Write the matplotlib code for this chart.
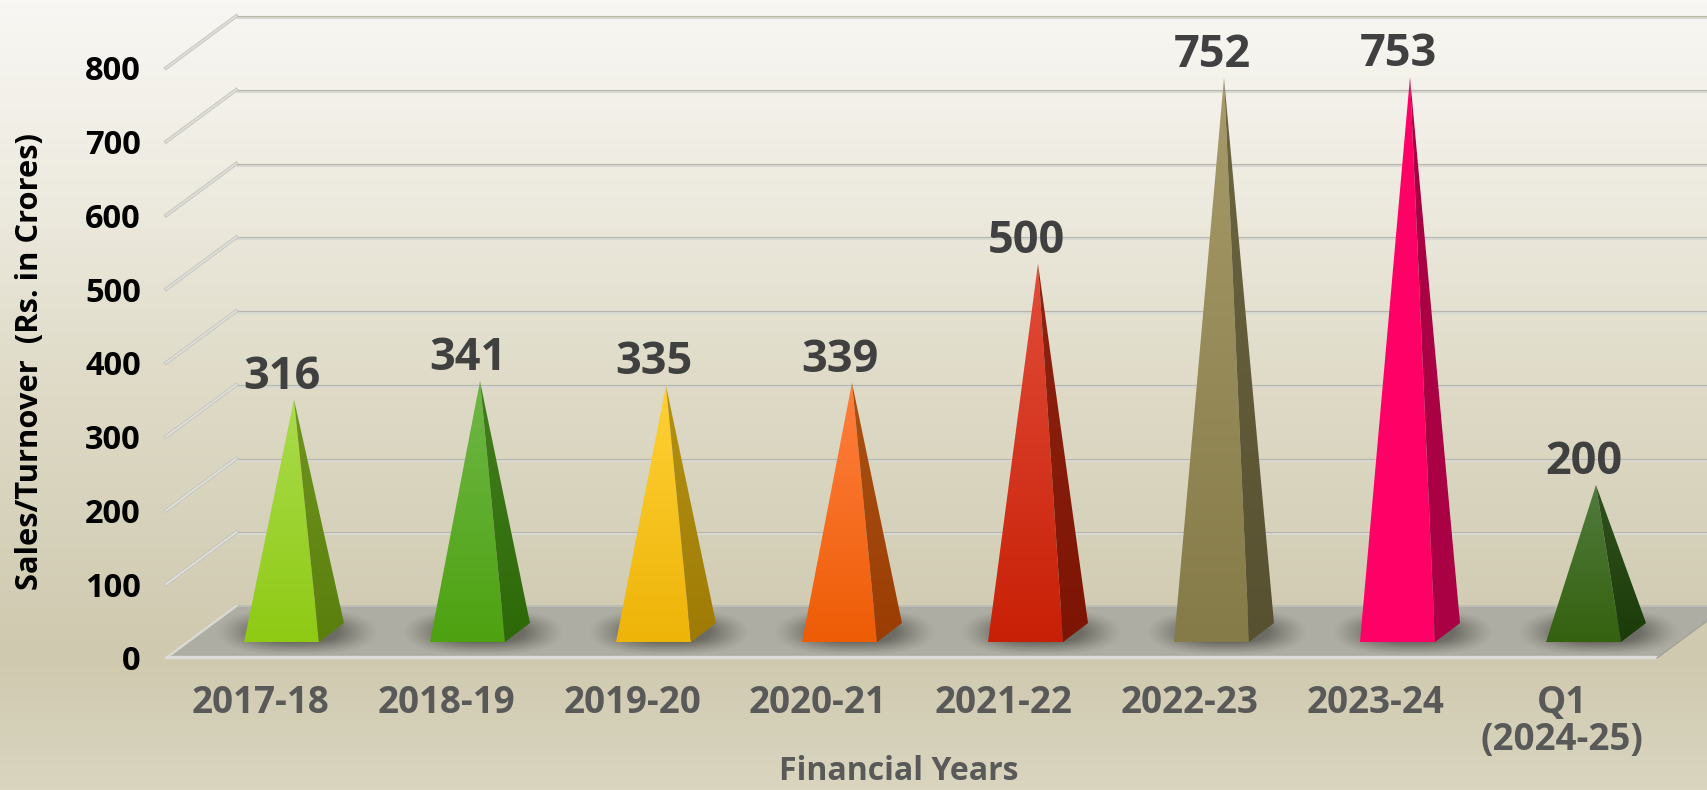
import numpy as np
import matplotlib
matplotlib.use('Agg')
import matplotlib.pyplot as plt
from matplotlib.colors import LinearSegmentedColormap, to_rgb
from matplotlib.patches import Polygon

plt.rcParams['font.family'] = ['Open Sans', 'DejaVu Sans']
plt.rcParams['font.weight'] = 'bold'

# data
categories = ['2017-18', '2018-19', '2019-20', '2020-21', '2021-22', '2022-23', '2023-24', 'Q1\n(2024-25)']
values = [316, 341, 335, 339, 500, 752, 753, 200]
y_ticks = [0, 100, 200, 300, 400, 500, 600, 700, 800]
front_top = ['#aadc4c', '#6fb748', '#ffd136', '#ff8040', '#e24c3a', '#a79b69', '#ff0066', '#507b3e']
front_bottom = ['#8fca14', '#4ea210', '#eeb408', '#ee5c05', '#c82006', '#857b48', '#ff0066', '#35620f']
side_top = ['#6f9420', '#437f20', '#b39214', '#aa5214', '#902412', '#6d6642', '#aa0044', '#31521f']
side_bottom = ['#5b7f0c', '#2e6908', '#9f7b05', '#9b3d03', '#7d1404', '#585131', '#aa0044', '#1b3b08']

# scale: pixels of the figure per unit and per category
W, H = 1708, 790
px_per_val = 0.7375
px_per_cat = 186.0
floor_back_y = 606
floor_depth = 70.5      # in value units
depth_x = 0.378         # in category units
bar_width = 75 / px_per_cat
bar_dx = 25 / px_per_cat
bar_dy = 19 / px_per_val
base_v = -36
first_apex_x = 294
left_px = 166
bottom_px = 658

fig = plt.figure(figsize=(W / 100, H / 100), dpi=100)

# background gradient
bg = fig.add_axes([0, 0, 1, 1], zorder=0)
bg_cmap = LinearSegmentedColormap.from_list('bg', [
    (0.0, '#f8f7f3'), (0.25, '#edeadf'), (0.5, '#dedac6'), (0.83, '#cfc9af'), (1.0, '#d9d5bf')])
bg.imshow(np.linspace(0, 1, 256)[:, None], cmap=bg_cmap, aspect='auto', vmin=0, vmax=1)
bg.axis('off')

ax = fig.add_axes([left_px / W, 1 - bottom_px / H, (W - left_px) / W, bottom_px / H], zorder=1)
ax.patch.set_alpha(0)
x0 = (left_px - first_apex_x) / px_per_cat
x1 = (W - first_apex_x) / px_per_cat
y0 = -floor_depth
y1 = floor_back_y / px_per_val
for s in ax.spines.values():
    s.set_visible(False)

back_x = x0 + depth_x
front_right = (1657 - first_apex_x) / px_per_cat

# grid lines on wall and side wall
for v in y_ticks[1:]:
    ax.plot([back_x, x1], [v - 1.5, v - 1.5], color='#d8d8d2', lw=2.2, solid_capstyle='butt', zorder=2)
    ax.plot([back_x, x1], [v, v], color='#b6b6ac', lw=0.8, solid_capstyle='butt', zorder=2)
    ax.plot([x0, back_x], [v - floor_depth, v], color='#c4c4ba', lw=2.6, clip_on=False, zorder=2)
    ax.plot([x0, back_x], [v - floor_depth, v], color='#dededa', lw=1.4, clip_on=False, zorder=2)

# floor
floor = Polygon([(x0, y0), (back_x, 0), (front_right + depth_x, 0), (front_right, y0)], closed=True,
                facecolor='#adada3', edgecolor='none', clip_on=False, zorder=3)
ax.add_patch(floor)
ax.plot([back_x, x1], [0, 0], color='#bdbdb3', lw=1.5, zorder=3)
ax.plot([x0, back_x], [y0, 0], color='#d9d9d4', lw=1.8, clip_on=False, zorder=3)
ax.plot([x0, front_right], [y0 + 1.5, y0 + 1.5], color='#dcdcd8', lw=2.4, solid_capstyle='butt', clip_on=False, zorder=3)
ax.plot([front_right, front_right + depth_x], [y0, 0], color='#a2a298', lw=1, clip_on=False, zorder=3)

# soft shadows on floor
sx, sy = np.meshgrid(np.linspace(-1, 1, 200), np.linspace(-1, 1, 100))
shadow_alpha = np.clip((1 - (np.abs(sx) ** 2.6 + np.abs(sy) ** 2.2) ** 0.5) * 1.7, 0, 1) ** 1.3 * 0.62
shadow_rgba = np.zeros(sx.shape + (4,))
shadow_rgba[..., :3] = to_rgb('#45453f')
shadow_rgba[..., 3] = shadow_alpha

grad = np.linspace(0, 1, 256)[:, None]


def gradient_poly(pts, c_top, c_bottom, top, bottom, z):
    cmap = LinearSegmentedColormap.from_list('g', [c_top, c_bottom])
    xs = [p[0] for p in pts]
    im = ax.imshow(grad, cmap=cmap, aspect='auto', extent=(min(xs), max(xs), bottom, top), zorder=z, clip_on=True)
    poly = Polygon(pts, closed=True, transform=ax.transData)
    im.set_clip_path(poly)


for i, v in enumerate(values):
    left = i - 50 / px_per_cat
    right = left + bar_width
    apex = (i, v + base_v)
    fl = (left, base_v - bar_dy / 2)
    fr = (right, base_v - bar_dy / 2)
    br = (right + bar_dx, base_v + bar_dy / 2)

    sh = ax.imshow(shadow_rgba, aspect='auto', zorder=4,
                   extent=(i - 78 / px_per_cat, i + 84 / px_per_cat, base_v - 32, base_v + 32))
    sh.set_clip_path(floor)

    gradient_poly([apex, fl, fr], front_top[i], front_bottom[i], apex[1], fl[1], 5)
    gradient_poly([apex, fr, br], side_top[i], side_bottom[i], apex[1], fl[1], 5)

    ax.annotate(str(v), xy=apex, xytext=(-12 * 0.72, 11 * 0.72), textcoords='offset points',
                ha='center', va='baseline', fontsize=32.5, fontweight='bold', color='#404040',
                annotation_clip=False, zorder=6)

ax.set_xlim(x0, x1)
ax.set_ylim(y0, y1)

# category labels sit under the front of the floor, value labels by the side wall
ax.set_xticks(np.arange(len(categories)) - 34 / px_per_cat, categories, linespacing=0.95)
ax.set_yticks(np.array(y_ticks) - floor_depth, [str(t) for t in y_ticks])
ax.tick_params(axis='x', length=0, pad=19, labelsize=26.5, labelcolor='#595959')
ax.tick_params(axis='y', length=0, pad=18, labelsize=23.5, labelcolor='black')

ax.set_xlabel('Financial Years', fontsize=23, fontweight='bold', color='#595959')
ax.xaxis.set_label_coords((899 - left_px) / (W - left_px), -(771 - bottom_px) / bottom_px)
ax.xaxis.label.set_va('center')
ax.set_ylabel('Sales/Turnover  (Rs. in Crores)', fontsize=22.2, fontweight='bold', color='black')
ax.yaxis.set_label_coords(-(left_px - 30) / (W - left_px), 1 - 362 / bottom_px)
ax.yaxis.label.set_va('center')

fig.savefig('out.png', dpi=100)
